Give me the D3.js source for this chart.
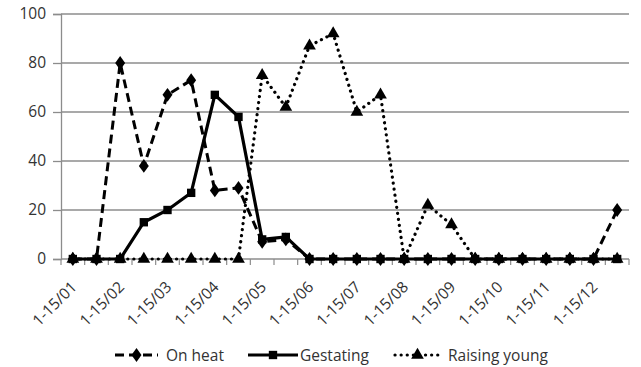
<!DOCTYPE html>
<html>
<head>
<meta charset="utf-8">
<script src="https://cdn.jsdelivr.net/npm/d3@7"></script>
<style>
  body { margin: 0; background: #fff; }
  svg text { font-family: "Open Sans", "Liberation Sans", sans-serif; }
</style>
</head>
<body>
<svg id="chart" width="641" height="367"></svg>
<script>
// half-month periods, Jan to Dec
const periods = ["1-15/01","16-31/01","1-15/02","16-28/02","1-15/03","16-31/03",
  "1-15/04","16-30/04","1-15/05","16-31/05","1-15/06","16-30/06",
  "1-15/07","16-31/07","1-15/08","16-31/08","1-15/09","16-30/09",
  "1-15/10","16-31/10","1-15/11","16-30/11","1-15/12","16-31/12"];
const tickLabels = ["1-15/01","1-15/02","1-15/03","1-15/04","1-15/05","1-15/06",
  "1-15/07","1-15/08","1-15/09","1-15/10","1-15/11","1-15/12"];
const yTicks = [0, 20, 40, 60, 80, 100];

const onHeat     = [0,0,80,38,67,73,28,29,7,8,0,0,0,0,0,0,0,0,0,0,0,0,0,20];
const gestating  = [0,0,0,15,20,27,67,58,8,9,0,0,0,0,0,0,0,0,0,0,0,0,0,0];
const raisingYoung = [0,0,0,0,0,0,0,0,75,62,87,92,60,67,0,22,14,0,0,0,0,0,0,0];

const seriesNames = ["On heat", "Gestating", "Raising young"];

var svg = d3.select("#chart");
var margin = { left: 61, right: 12, top: 14, bottom: 108 };
var width = +svg.attr("width"), height = +svg.attr("height");

const x = d3.scaleBand().domain(periods).range([margin.left, width - margin.right]);
const y = d3.scaleLinear().domain([0, 100]).range([height - margin.bottom, margin.top]);

const grid = "#8c8c8c";
const fs = 15.5;

// gridlines
svg.append("g").selectAll("line")
  .data(yTicks.filter(d => d > 0)).enter()
  .append("line")
  .attr("x1", margin.left).attr("x2", width - margin.right)
  .attr("y1", d => y(d)).attr("y2", d => y(d))
  .attr("stroke", grid).attr("stroke-width", 1.3);

// y axis
var yAxis = svg.append("g")
  .attr("transform", "translate(" + margin.left + ",0)")
  .call(d3.axisLeft(y).tickValues(yTicks).tickSize(8).tickPadding(7));
yAxis.select(".domain").attr("stroke", grid).attr("stroke-width", 1.3);
yAxis.selectAll(".tick line").attr("stroke", grid).attr("stroke-width", 1.3);
yAxis.selectAll("text").attr("font-size", fs).attr("fill", "#333")
  .style("font-family", "'Open Sans', sans-serif");

// x axis line + ticks at period boundaries
var x0 = y(0);
svg.append("line")
  .attr("x1", margin.left).attr("x2", width - margin.right)
  .attr("y1", x0).attr("y2", x0)
  .attr("stroke", grid).attr("stroke-width", 1.3);
var bounds = periods.map(p => x(p)).concat([x.range()[1]]);
svg.append("g").selectAll("line")
  .data(bounds).enter()
  .append("line")
  .attr("x1", d => d).attr("x2", d => d)
  .attr("y1", x0).attr("y2", x0 + 6)
  .attr("stroke", grid).attr("stroke-width", 1.2);

// x labels, rotated
svg.append("g").selectAll("text")
  .data(tickLabels).enter()
  .append("text")
  .attr("text-anchor", "end")
  .attr("font-size", fs)
  .attr("fill", "#333")
  .attr("transform", d => "translate(" + (x(d) + x.bandwidth() / 2 + 5) + "," + (x0 + 29) + ") rotate(-45)")
  .text(d => d);

const styles = [
  { data: onHeat, dash: "9,5", cap: "butt", width: 3, marker: d3.symbolDiamond, size: 55 },
  { data: gestating, dash: null, cap: "butt", width: 3.2, marker: d3.symbolSquare, size: 70 },
  { data: raisingYoung, dash: "0.1,6", cap: "round", width: 3.2, marker: d3.symbolTriangle, size: 70 }
];

var line = d3.line()
  .x((d, i) => x(periods[i]) + x.bandwidth() / 2)
  .y(d => y(d));

styles.forEach(function(s) {
  var g = svg.append("g");
  g.append("path")
    .datum(s.data)
    .attr("fill", "none")
    .attr("stroke", "#000")
    .attr("stroke-width", s.width)
    .attr("stroke-linecap", s.cap)
    .attr("stroke-dasharray", s.dash)
    .attr("d", line);
  g.selectAll("path.pt")
    .data(s.data).enter()
    .append("path").attr("class", "pt")
    .attr("d", d3.symbol().type(s.marker).size(s.size))
    .attr("transform", (d, i) => "translate(" + (x(periods[i]) + x.bandwidth() / 2) + "," + y(d) + ")" + (s.marker === d3.symbolDiamond ? " scale(1.25,1)" : ""))
    .attr("fill", "#000");
});

// legend
const legendX = [115, 248, 395];
const legendW = [43, 50, 45];
var ly = 355;
styles.forEach(function(s, i) {
  var g = svg.append("g");
  g.append("line")
    .attr("x1", legendX[i]).attr("x2", legendX[i] + legendW[i])
    .attr("y1", ly).attr("y2", ly)
    .attr("stroke", "#000")
    .attr("stroke-width", s.width)
    .attr("stroke-linecap", s.cap)
    .attr("stroke-dasharray", s.dash);
  g.append("path")
    .attr("d", d3.symbol().type(s.marker).size(s.size))
    .attr("transform", "translate(" + (legendX[i] + legendW[i] / 2) + "," + ly + ")" + (s.marker === d3.symbolDiamond ? " scale(1.25,1)" : ""))
    .attr("fill", "#000");
  g.append("text")
    .attr("x", legendX[i] + legendW[i] + (i === 1 ? 2 : 8))
    .attr("y", ly + 5.5)
    .attr("font-size", fs)
    .attr("fill", "#333")
    .text(seriesNames[i]);
});
</script>
</body>
</html>
